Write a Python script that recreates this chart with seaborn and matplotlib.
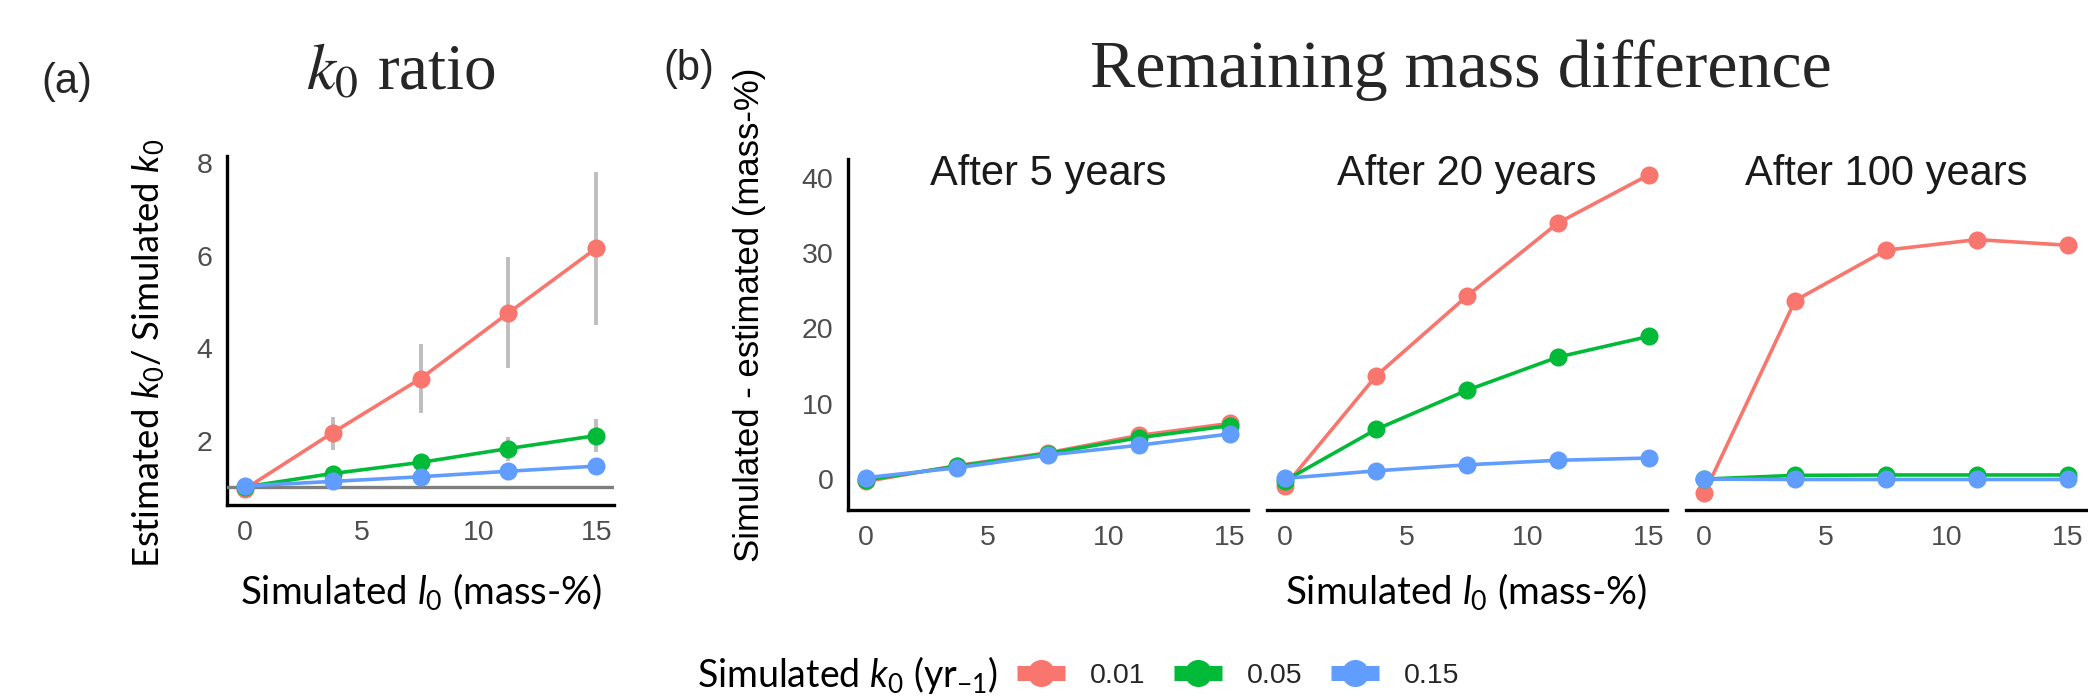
import numpy as np
import pandas as pd
import matplotlib
matplotlib.use("Agg")
import matplotlib.pyplot as plt
import seaborn as sns
from matplotlib.lines import Line2D

# ---------------- data ----------------
x_l0 = [0, 3.75, 7.5, 11.25, 15]
k0_levels = ["0.01", "0.05", "0.15"]
palette = ["#F8766D", "#00BA38", "#619CFF"]

# (a) k0 ratio: mean and error-bar bounds
ratio_k001 = [0.95, 2.17, 3.34, 4.76, 6.16]
ratio_k005 = [1.00, 1.29, 1.53, 1.83, 2.11]
ratio_k015 = [1.02, 1.12, 1.22, 1.34, 1.45]
ratio_lo_k001 = [0.95, 1.80, 2.60, 3.58, 4.49]
ratio_hi_k001 = [0.95, 2.51, 4.08, 5.96, 7.81]
ratio_lo_k005 = [1.00, 1.17, 1.40, 1.57, 1.76]
ratio_hi_k005 = [1.00, 1.41, 1.66, 2.08, 2.47]
ratio_lo_k015 = [1.00, 1.06, 1.14, 1.26, 1.36]
ratio_hi_k015 = [1.00, 1.18, 1.30, 1.42, 1.54]

# (b) remaining mass difference
facet_titles = ["After 5 years", "After 20 years", "After 100 years"]
y5_k001 = [-0.3, 1.8, 3.5, 5.8, 7.4]
y5_k005 = [-0.1, 1.7, 3.4, 5.5, 7.1]
y5_k015 = [0.2, 1.5, 3.2, 4.5, 6.0]
y20_k001 = [-0.9, 13.7, 24.3, 34.0, 40.4]
y20_k005 = [-0.2, 6.6, 11.8, 16.2, 18.95]
y20_k015 = [0.1, 1.1, 1.9, 2.5, 2.8]
y100_k001 = [-1.9, 23.7, 30.4, 31.8, 31.05]
y100_k005 = [0.0, 0.5, 0.55, 0.55, 0.55]
y100_k015 = [0.0, -0.05, -0.05, -0.05, -0.05]

# ---------------- style ----------------
sns.set_theme(style="white")
plt.rcParams["font.family"] = ["Liberation Sans", "DejaVu Sans"]
plt.rcParams["mathtext.fontset"] = "custom"
plt.rcParams["mathtext.rm"] = "Lato"
plt.rcParams["mathtext.it"] = "Lato:italic"
plt.rcParams["mathtext.bf"] = "Lato:bold"

W, H = 2088, 700
fig = plt.figure(figsize=(W / 100, H / 100), dpi=100)
fig.patch.set_facecolor("white")

def px_axes(left, top, width, height):
    return fig.add_axes([left / W, (H - top - height) / H, width / W, height / H])

def style_axes(ax, yaxis=True):
    for s in ["top", "right"]:
        ax.spines[s].set_visible(False)
    ax.spines["bottom"].set_linewidth(2.4)
    ax.spines["bottom"].set_color("black")
    if yaxis:
        ax.spines["left"].set_linewidth(2.4)
        ax.spines["left"].set_color("black")
    else:
        ax.spines["left"].set_visible(False)
    ax.tick_params(axis="both", length=5.5, width=1.9, color="#333333",
                   labelcolor="#4D4D4D", labelsize=20.5, pad=5)
    if not yaxis:
        ax.tick_params(axis="y", left=False, labelleft=False)
    ax.set_facecolor("white")
    ax.grid(False)
    ax.set_xlabel("")
    ax.set_ylabel("")

def long_df(series):
    rows = []
    for lev, vals in zip(k0_levels, series):
        for x, v in zip(x_l0, vals):
            rows.append({"l0": x, "val": v, "k0": lev})
    return pd.DataFrame(rows)

line_kw = dict(x="l0", y="val", hue="k0", hue_order=k0_levels, palette=palette,
               marker="o", markersize=13, markeredgewidth=0, linewidth=2.6,
               legend=False, errorbar=None, sort=False)

# ---------------- panel (a) ----------------
ax_a = px_axes(227, 156, 387, 349)
los = [ratio_lo_k001, ratio_lo_k005, ratio_lo_k015]
his = [ratio_hi_k001, ratio_hi_k005, ratio_hi_k015]
for lo, hi in zip(los, his):
    ax_a.vlines(x_l0, lo, hi, color="#BEBEBE", linewidth=2.8, zorder=1)
ax_a.axhline(1, color="#7F7F7F", linewidth=2.4, zorder=1.5)
sns.lineplot(data=long_df([ratio_k001, ratio_k005, ratio_k015]), ax=ax_a, **line_kw)
for l in ax_a.lines:
    l.set_zorder(3)
ax_a.set_xlim(-0.75, 15.75)
ax_a.set_ylim(0.61, 8.15)
ax_a.set_xticks([0, 5, 10, 15])
ax_a.set_yticks([2, 4, 6, 8])
style_axes(ax_a)

# ---------------- panel (b) ----------------
facet_data = [[y5_k001, y5_k005, y5_k015],
              [y20_k001, y20_k005, y20_k015],
              [y100_k001, y100_k005, y100_k015]]
facet_left = [848, 1267, 1686]
for i, (left, series, ttl) in enumerate(zip(facet_left, facet_data, facet_titles)):
    ax = px_axes(left, 159, 400, 351)
    sns.lineplot(data=long_df(series), ax=ax, **line_kw)
    ax.set_xlim(-0.75, 15.75)
    ax.set_ylim(-4.1, 42.5)
    ax.set_xticks([0, 5, 10, 15])
    ax.set_yticks([0, 10, 20, 30, 40])
    style_axes(ax, yaxis=(i == 0))
    fig.text((left + 200) / W, 1 - 185 / H, ttl, ha="center", va="baseline",
             fontsize=30, color="#1A1A1A")

# ---------------- texts ----------------
lab_kw = dict(fontsize=27.7, color="black", family="Lato")
fig.text(67 / W, 1 - 82 / H, "(a)", ha="center", va="center", fontsize=30)
fig.text(689 / W, 1 - 69 / H, "(b)", ha="center", va="center", fontsize=30)
fig.text(401 / W, 1 - 90 / H, r"$k_0$ ratio", ha="center", va="baseline",
         fontsize=47, family="Liberation Serif", math_fontfamily="stix")
fig.text(1461 / W, 1 - 87 / H, "Remaining mass difference", ha="center",
         va="baseline", fontsize=49, family="Liberation Serif")

fig.text(421 / W, 1 - 592 / H, r"Simulated $l_0$ (mass-%)", ha="center",
         va="center", **lab_kw)
fig.text(149 / W, 1 - 353 / H, r"Estimated $k_0$/ Simulated $k_0$", ha="center",
         va="center", rotation=90, fontsize=26.3, color="black", family="Lato")
fig.text(1466 / W, 1 - 592 / H, r"Simulated $l_0$ (mass-%)", ha="center",
         va="center", **lab_kw)
fig.text(749 / W, 1 - 315 / H, "Simulated - estimated (mass-%)", ha="center",
         va="center", rotation=90, fontsize=25, color="black")

# ---------------- legend ----------------
fig.text(697 / W, 1 - 675 / H, r"Simulated $k_0$ (yr$_{\mathrm{-1}}$)", ha="left",
         va="center", fontsize=27, color="black", family="Lato")
handles = [Line2D([0], [0], color=c, linewidth=10.8, marker="o", markersize=19.5,
                  markeredgewidth=0, solid_capstyle="butt") for c in palette]
leg = fig.legend(handles, k0_levels, loc="center left",
                 bbox_to_anchor=(1017 / W, 1 - 676 / H), ncol=3, frameon=False,
                 fontsize=20.5, handlelength=1.68, handletextpad=0.88,
                 columnspacing=1.0, borderaxespad=0, borderpad=0)

fig.savefig("out.png", dpi=100, facecolor="white")
